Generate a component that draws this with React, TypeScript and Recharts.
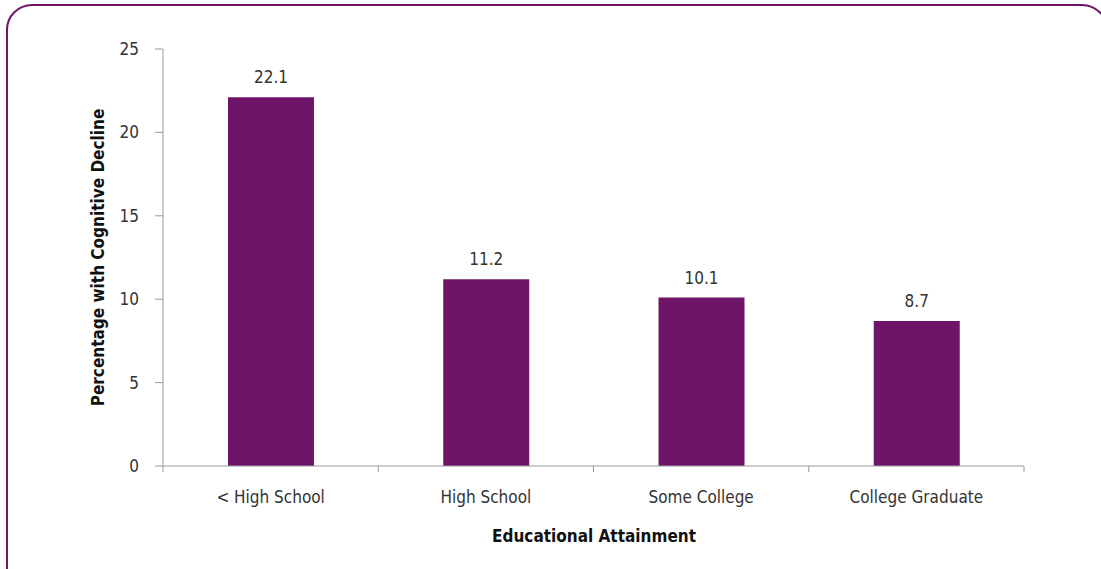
import React from "react";
import { BarChart, Bar, XAxis, YAxis, LabelList } from "recharts";

const categories = ["< High School", "High School", "Some College", "College Graduate"];
const percentages = [22.1, 11.2, 10.1, 8.7];
const yTicks = [0, 5, 10, 15, 20, 25];

const data = categories.map((name, i) => ({ name, value: percentages[i] }));

const W = 1101;
const H = 569;
const X_AXIS_H = 30;
const MARGIN = { top: 49, right: 77, bottom: 103 - X_AXIS_H, left: 0 };
const Y_AXIS_W = 163;
const BAND = (W - MARGIN.left - Y_AXIS_W - MARGIN.right) / categories.length;

const FONT = "'DejaVu Sans Condensed', 'Liberation Sans Narrow', sans-serif";
const PURPLE = "#6e1469";
const AXIS = "#999999";

const XTick = (props: any) => {
  const { x, y, payload, index } = props;
  const left = x - BAND / 2;
  return (
    <g>
      <line x1={left} y1={y} x2={left} y2={y + 6} stroke={AXIS} />
      {index === categories.length - 1 && (
        <line x1={x + BAND / 2} y1={y} x2={x + BAND / 2} y2={y + 6} stroke={AXIS} />
      )}
      <text x={x} y={y + 37} textAnchor="middle" fill="#333" fontSize={17} fontFamily={FONT}>
        {payload.value}
      </text>
    </g>
  );
};

export default function App() {
  return (
    <div style={{ position: "absolute", left: 0, top: 0, width: W, height: H, overflow: "hidden", background: "#fff" }}>
      <div
        style={{
          position: "absolute",
          left: 6,
          top: 4,
          width: 1102,
          height: 590,
          border: `2.5px solid ${PURPLE}`,
          borderRadius: 26,
          boxSizing: "border-box",
        }}
      />
      <div style={{ position: "absolute", left: 0, top: 0 }}>
        <BarChart width={W} height={H} data={data} margin={MARGIN}>
          <XAxis
            dataKey="name"
            height={X_AXIS_H}
            tickLine={false}
            tickSize={0}
            tickMargin={0}
            stroke={AXIS}
            tick={<XTick />}
            interval={0}
          />
          <YAxis
            width={Y_AXIS_W}
            domain={[0, 25]}
            ticks={yTicks}
            stroke={AXIS}
            tickSize={8}
            tickMargin={16}
            tick={{ fill: "#333", fontSize: 17, fontFamily: FONT }}
            label={{
              value: "Percentage with Cognitive Decline",
              angle: -90,
              position: "insideLeft",
              dx: 93,
              style: { textAnchor: "middle", fill: "#111", fontSize: 17, fontWeight: "bold", fontFamily: FONT },
            }}
          />
          <Bar dataKey="value" fill={PURPLE} barSize={86} isAnimationActive={false}>
            <LabelList dataKey="value" position="top" offset={14} fill="#333" fontSize={17} fontFamily={FONT} />
          </Bar>
          <text x={594} y={542} textAnchor="middle" fill="#111" fontSize={17} fontWeight="bold" fontFamily={FONT}>
            Educational Attainment
          </text>
        </BarChart>
      </div>
    </div>
  );
}
